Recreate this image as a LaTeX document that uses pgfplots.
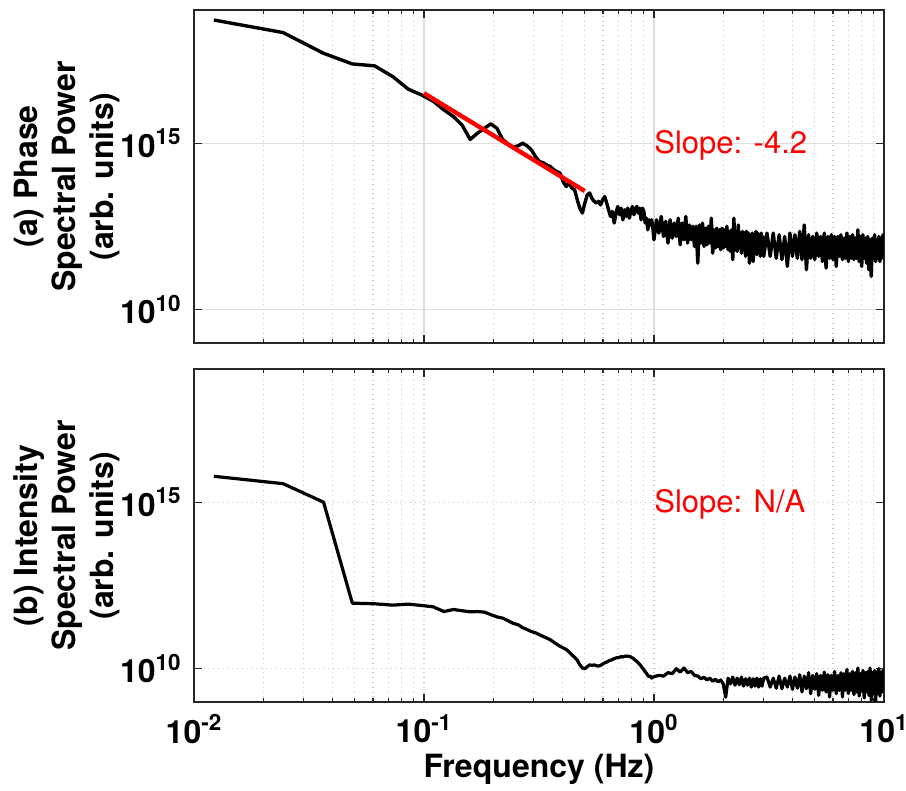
\documentclass[border=0pt]{standalone}
\usepackage{fontspec}
\setmainfont{TeX Gyre Heros}
\usepackage{pgfplots}
\pgfplotsset{compat=1.18}

\definecolor{gridsolid}{gray}{0.87}
\definecolor{griddot}{gray}{0.78}
\definecolor{axcol}{gray}{0.15}

\begin{document}
\begin{tikzpicture}
\useasboundingbox (-97pt,5pt) rectangle (356pt,-390.5pt);

% (a) phase
\begin{axis}[at={(0,0)}, anchor=north west,
  scale only axis, width=345pt, height=166.5pt,
  xmode=log, ymode=log,
  xmin=0.01, xmax=10, ymin=1e9, ymax=1e19,
  xtick={0.01,0.1,1,10}, xticklabels={},
  minor xtick={0.02,0.03,0.04,0.05,0.06,0.07,0.08,0.09,0.2,0.3,0.4,0.5,0.6,0.7,0.8,0.9,2,3,4,5,6,7,8,9},
  ytick={1e10,1e15},
  yticklabels={10\textsuperscript{10},10\textsuperscript{15}},
  yminorticks=false,
  xtick pos=both, ytick pos=both, tick align=inside,
  major tick length=4pt, minor tick length=2pt,
  tick style={axcol, line width=0.6pt},
  axis line style={axcol, line width=0.8pt},
  xmajorgrids, xminorgrids, ymajorgrids,
  major grid style={gridsolid, solid, line width=0.6pt},
  minor grid style={griddot, dotted, line width=0.6pt},
  tick label style={font=\bfseries\fontsize{16}{18}\selectfont, inner sep=0pt},
  yticklabel style={xshift=-6pt},
  ylabel={(a) Phase\\Spectral Power\\(arb. units)},
  every axis y label/.style={at={(axis description cs:-0.107,0.5)}, anchor=south,
    rotate=90, align=center, inner sep=0pt,
    font=\bfseries\fontsize{16}{19}\selectfont}]
\addplot[black, line width=1.7pt, line join=round] table {
f p
0.0122 5.0e18
0.0244 2.1e18
0.0366 5.0e17
0.0488 2.4e17
0.0610 2.1e17
0.0732 1.0e17
0.0854 4.2e16
0.0977 2.8e16
0.1099 1.8e16
0.1221 1.0e16
0.1343 6.3e15
0.1465 3.5e15
0.1587 1.3e15
0.1709 2.0e15
0.1831 2.8e15
0.1953 3.8e15
0.2075 2.8e15
0.2197 1.3e15
0.2319 9.5e14
0.2441 7.6e14
0.2563 8.3e14
0.2686 1.0e15
0.2808 8.3e14
0.2930 6.3e14
0.3052 4.0e14
0.3174 2.8e14
0.3296 2.6e14
0.3418 2.2e14
0.3540 2.0e14
0.3662 1.6e14
0.3784 1.4e14
0.3906 1.26e14
0.4028 7.0e13
0.4150 5.0e13
0.4272 6.3e13
0.4395 4.5e13
0.4517 4.0e13
0.4639 2.0e13
0.4761 1.1e13
0.4883 8.0e12
0.5005 1.6e13
0.5127 2.8e13
0.5249 3.2e13
0.5371 2.2e13
0.5493 1.8e13
0.5615 1.6e13
0.5737 1.8e13
0.5859 1.4e13
0.5981 2.0e13
0.6104 2.5e13
0.6226 1.6e13
0.6348 1.0e13
0.6470 6.3e12
0.6592 8.9e12
0.6714 4.0e12
0.6836 7.9e12
0.6958 1.26e13
0.7080 7.1e12
0.7202 1.12e13
0.7324 5.0e12
0.7446 1.0e13
0.7568 6.3e12
0.7690 1.12e13
0.7812 5.6e12
0.7935 8.9e12
0.8057 1.26e13
0.8179 7.1e12
0.8301 1.0e13
0.8423 1.26e13
0.8545 7.9e12
0.8667 1.12e13
0.8789 5.0e12
0.8911 1.12e13
0.9033 8.9e12
0.9155 4.0e12
0.9277 5.6e12
0.9399 2.5e12
0.9521 5.0e12
0.9644 3.5e12
0.9766 5.0e12
0.9888 2.8e12
1.000 1.26e12
1.025 5.0e12
1.050 2.0e12
1.075 6.3e12
1.100 1.58e12
1.125 4.5e12
1.150 1.0e12
1.175 5.0e12
1.200 1.41e12
1.225 4.0e12
1.250 1.58e12
1.275 5.6e12
1.300 8.9e11
1.325 4.0e12
1.350 1.26e12
1.375 6.3e12
1.400 1.0e12
1.425 3.5e12
1.450 1.26e12
1.475 3.2e12
1.500 7.9e11
1.525 3.2e12
1.550 2.5e11
1.575 3.5e12
1.600 1.0e12
1.625 4.0e12
1.650 7.9e11
1.675 2.8e12
1.700 8.9e11
1.725 3.2e12
1.750 1.0e12
1.775 5.6e12
1.800 5.0e11
1.825 2.5e12
1.850 7.1e11
1.875 2.8e12
1.900 7.9e11
1.925 2.5e12
1.950 6.3e11
1.975 2.8e12
2.000 7.1e11
2.025 2.5e12
2.050 7.9e11
2.075 3.2e12
2.100 6.3e11
2.125 2.24e12
2.150 5.6e11
2.175 2.5e12
2.200 3.2e11
2.225 5.6e12
2.250 6.3e11
2.275 2.24e12
2.300 5.6e11
2.325 3.5e12
2.350 7.1e11
2.375 2.0e12
2.400 5.0e11
2.425 2.24e12
2.450 6.3e11
2.475 2.0e12
2.500 4.0e11
2.525 2.24e12
2.550 5.6e11
2.575 2.0e12
2.600 2.5e11
2.625 1.78e12
2.650 5.0e11
2.675 2.0e12
2.700 2.8e11
2.725 1.78e12
2.750 5.0e11
2.775 2.24e12
2.800 4.5e11
2.825 2.0e12
2.850 5.6e11
2.875 1.78e12
2.900 4.0e11
2.925 2.0e12
2.950 5.0e11
2.975 1.58e12
3.000 4.0e11
3.1 2.0e12
3.2 4.0e11
3.3 2.0e12
3.4 3.5e11
3.5 1.78e12
3.6 3.2e11
3.7 1.58e12
3.8 2.0e11
3.9 2.0e12
4.0 4.0e11
4.1 1.78e12
4.2 3.5e11
4.3 2.24e12
4.4 3.2e11
4.5 3.5e12
4.6 1.58e11
4.7 1.78e12
4.8 3.5e11
4.9 1.58e12
5.0 3.2e11
5.1 2.0e12
5.2 4.0e11
5.3 1.58e12
5.4 2.8e11
5.5 2.0e12
5.6 1.78e11
5.7 1.58e12
5.8 3.5e11
5.9 1.78e12
6.0 3.2e11
6.1 1.58e12
6.2 2.0e11
6.3 1.58e12
6.4 4.0e11
6.5 1.78e12
6.6 3.2e11
6.7 1.41e12
6.8 3.5e11
6.9 2.0e12
7.0 2.8e11
7.1 1.58e12
7.2 3.5e11
7.3 1.78e12
7.4 3.2e11
7.5 1.41e12
7.6 3.5e11
7.7 2.5e12
7.8 2.8e11
7.9 1.58e12
8.0 2.0e11
8.1 1.78e12
8.2 3.5e11
8.3 1.41e12
8.4 2.5e11
8.5 1.58e12
8.6 1.58e11
8.7 1.26e12
8.8 1.0e11
8.9 1.41e12
9.0 3.5e11
9.1 1.78e12
9.2 2.8e11
9.3 1.26e12
9.4 3.5e11
9.5 1.58e12
9.6 2.8e11
9.7 1.41e12
9.8 3.5e11
9.9 1.78e12
10.0 6.3e11
};
% fitted power law between 0.1 and 0.5 Hz
\addplot[red, line width=2.2pt] coordinates {(0.1,3.16e16) (0.5,3.66e13)};
\node[anchor=base west, inner sep=0pt, text=red, font=\fontsize{15.5}{18}\selectfont]
  at (axis cs:1,4.8e14) {Slope: -4.2};
\end{axis}

% (b) intensity
\begin{axis}[at={(0,-179.5pt)}, anchor=north west,
  scale only axis, width=345pt, height=166.5pt,
  xmode=log, ymode=log,
  xmin=0.01, xmax=10, ymin=1e9, ymax=1e19,
  xtick={0.01,0.1,1,10},
  xticklabels={10\textsuperscript{-2},10\textsuperscript{-1},10\textsuperscript{0},10\textsuperscript{1}},
  minor xtick={0.02,0.03,0.04,0.05,0.06,0.07,0.08,0.09,0.2,0.3,0.4,0.5,0.6,0.7,0.8,0.9,2,3,4,5,6,7,8,9},
  ytick={1e10,1e15},
  yticklabels={10\textsuperscript{10},10\textsuperscript{15}},
  yminorticks=false,
  xtick pos=both, ytick pos=both, tick align=inside,
  major tick length=4pt, minor tick length=2pt,
  tick style={axcol, line width=0.6pt},
  axis line style={axcol, line width=0.8pt},
  xmajorgrids, xminorgrids, ymajorgrids,
  major grid style={griddot, dotted, line width=0.6pt},
  minor grid style={griddot, dotted, line width=0.6pt},
  tick label style={font=\bfseries\fontsize{16}{18}\selectfont, inner sep=0pt},
  yticklabel style={xshift=-6pt},
  xticklabel style={yshift=-6pt},
  ylabel={(b) Intensity\\Spectral Power\\(arb. units)},
  every axis y label/.style={at={(axis description cs:-0.107,0.5)}, anchor=south,
    rotate=90, align=center, inner sep=0pt,
    font=\bfseries\fontsize{16}{19}\selectfont},
  xlabel={Frequency (Hz)},
  every axis x label/.style={at={(axis description cs:0.5,0)}, anchor=north,
    yshift=-26pt, inner sep=0pt, font=\bfseries\fontsize{16}{19}\selectfont}]
\addplot[black, line width=1.6pt, line join=round] table {
f p
0.0122 6.0e15
0.0244 3.6e15
0.0366 1.0e15
0.0488 9.3e11
0.0610 8.9e11
0.0732 8.1e11
0.0854 8.7e11
0.0977 7.9e11
0.1099 7.2e11
0.1221 5.2e11
0.1343 6.0e11
0.1465 5.5e11
0.1587 5.1e11
0.1709 5.2e11
0.1831 5.0e11
0.1953 4.2e11
0.2075 3.6e11
0.2197 3.3e11
0.2319 2.75e11
0.2441 2.3e11
0.2563 2.1e11
0.2686 1.7e11
0.2808 1.5e11
0.2930 1.3e11
0.3052 1.2e11
0.3174 1.05e11
0.3296 9.3e10
0.3418 8.3e10
0.3540 7.4e10
0.3662 6.3e10
0.3784 5.4e10
0.3906 4.7e10
0.4028 4.2e10
0.4150 3.8e10
0.4272 3.2e10
0.4395 2.6e10
0.4517 2.2e10
0.4639 1.8e10
0.4761 1.3e10
0.4883 1.05e10
0.5005 1.0e10
0.5127 1.15e10
0.5249 1.3e10
0.5371 1.26e10
0.5493 1.3e10
0.5615 1.23e10
0.5737 1.2e10
0.5859 1.26e10
0.5981 1.38e10
0.6104 1.5e10
0.6226 1.58e10
0.6348 1.7e10
0.6470 1.78e10
0.6592 1.9e10
0.6714 2.0e10
0.6836 2.1e10
0.6958 2.15e10
0.7080 2.2e10
0.7202 2.3e10
0.7324 2.25e10
0.7446 2.35e10
0.7568 2.4e10
0.7690 2.35e10
0.7812 2.35e10
0.7935 2.25e10
0.8057 2.1e10
0.8179 1.95e10
0.8301 1.78e10
0.8423 1.66e10
0.8545 1.48e10
0.8667 1.35e10
0.8789 1.2e10
0.8911 1.05e10
0.9033 9.3e9
0.9155 8.1e9
0.9277 7.2e9
0.9399 6.3e9
0.9521 5.75e9
0.9644 6.0e9
0.9766 5.2e9
0.9888 5.6e9
1.00 5.75e9
1.05 6.3e9
1.10 6.0e9
1.15 7.6e9
1.20 7.1e9
1.25 1.0e10
1.30 7.9e9
1.35 1.05e10
1.40 7.6e9
1.45 8.3e9
1.50 6.3e9
1.55 6.0e9
1.60 5.0e9
1.65 5.5e9
1.70 4.6e9
1.75 5.2e9
1.80 4.2e9
1.85 4.8e9
1.90 4.0e9
1.95 4.6e9
2.00 3.5e9
2.05 1.4e9
2.10 5.2e9
2.15 3.5e9
2.20 5.6e9
2.25 3.2e9
2.30 5.2e9
2.35 3.3e9
2.40 5.6e9
2.45 3.0e9
2.50 5.0e9
2.55 3.2e9
2.60 5.2e9
2.65 2.8e9
2.70 5.0e9
2.75 3.0e9
2.80 5.2e9
2.85 2.8e9
2.90 5.0e9
2.95 3.0e9
3.00 5.2e9
3.1 5.6e9
3.2 2.8e9
3.3 5.2e9
3.4 2.6e9
3.5 6.0e9
3.6 2.5e9
3.7 5.2e9
3.8 2.8e9
3.9 6.0e9
4.0 2.4e9
4.1 5.6e9
4.2 2.6e9
4.3 6.6e9
4.4 2.0e9
4.5 6.0e9
4.6 2.5e9
4.7 7.6e9
4.8 1.78e9
4.9 6.3e9
5.0 2.4e9
5.1 7.1e9
5.2 1.58e9
5.3 6.3e9
5.4 2.24e9
5.5 7.9e9
5.6 2.0e9
5.7 6.6e9
5.8 1.41e9
5.9 6.3e9
6.0 2.24e9
6.1 8.3e9
6.2 1.78e9
6.3 6.3e9
6.4 2.24e9
6.5 7.6e9
6.6 1.41e9
6.7 7.1e9
6.8 2.24e9
6.9 9.5e9
7.0 1.78e9
7.1 7.1e9
7.2 2.24e9
7.3 8.3e9
7.4 1.66e9
7.5 7.6e9
7.6 2.0e9
7.7 1.05e10
7.8 1.5e9
7.9 7.1e9
8.0 2.1e9
8.1 8.9e9
8.2 1.32e9
8.3 7.6e9
8.4 2.0e9
8.5 8.3e9
8.6 1.58e9
8.7 1.05e10
8.8 1.12e9
8.9 7.6e9
9.0 1.78e9
9.1 8.9e9
9.2 1.0e9
9.3 7.9e9
9.4 1.78e9
9.5 1.0e10
9.6 1.5e9
9.7 7.6e9
9.8 2.0e9
9.9 8.9e9
10.0 4.0e9
};
\node[anchor=base west, inner sep=0pt, text=red, font=\fontsize{15.5}{18}\selectfont]
  at (axis cs:1,4.8e14) {Slope: N/A};
\end{axis}
\end{tikzpicture}
\end{document}
